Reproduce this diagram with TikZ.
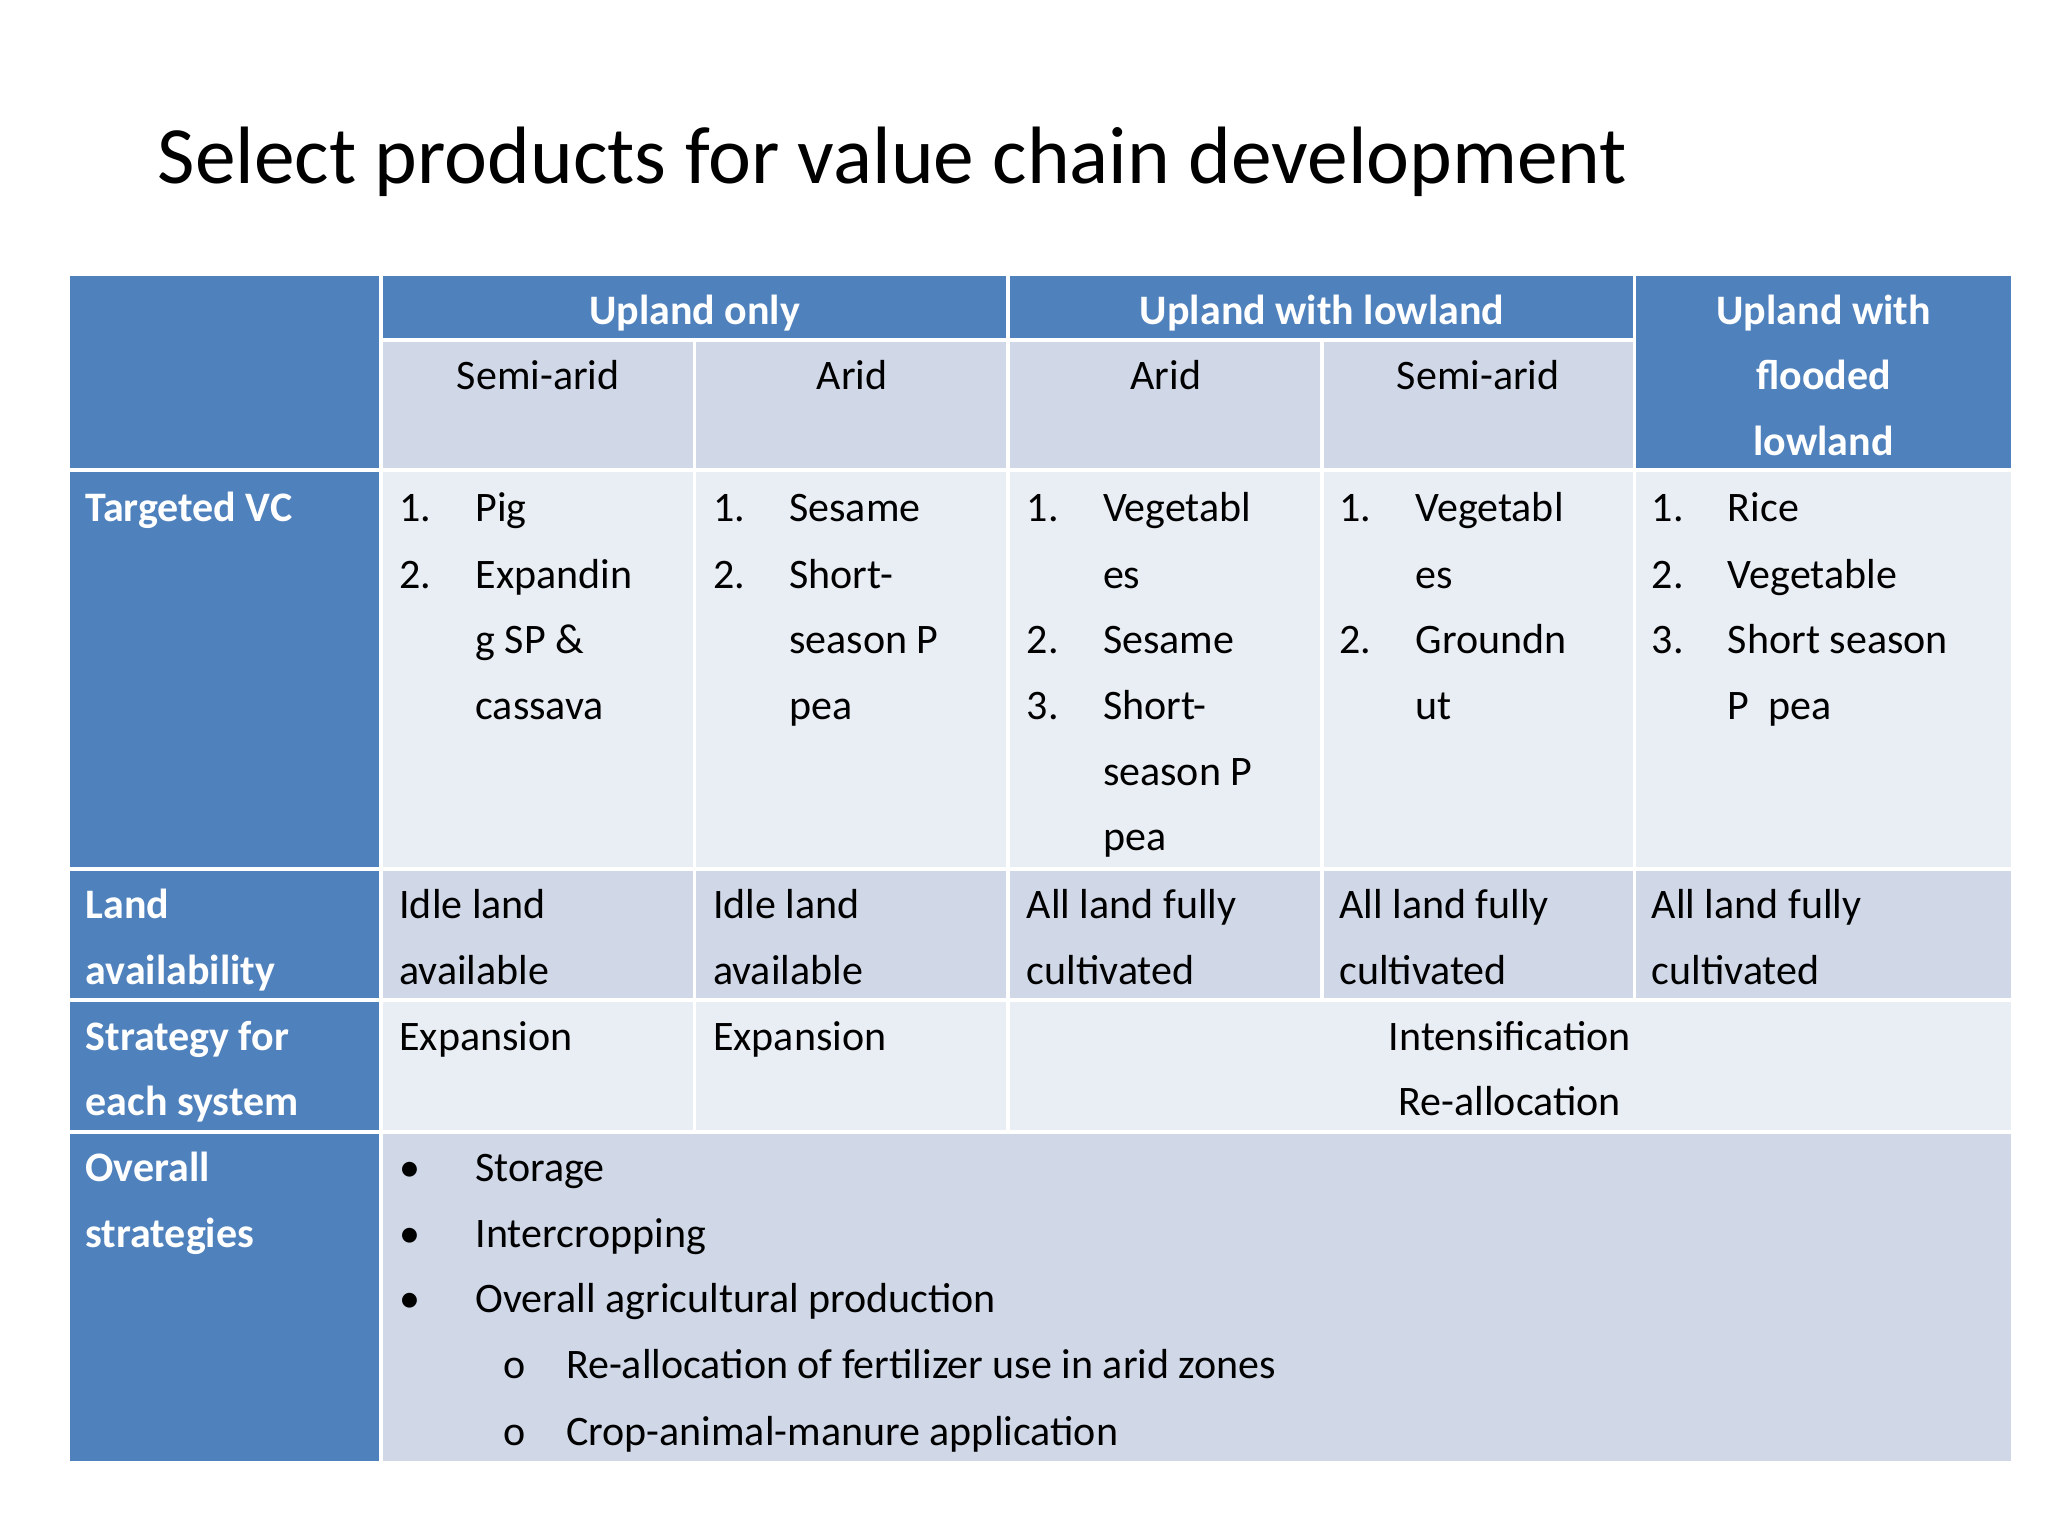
\documentclass[tikz,border=0pt]{standalone}
\usepackage{fontspec}
\setmainfont{Carlito}
\definecolor{hblue}{HTML}{4F81BD}
\definecolor{cdark}{HTML}{D0D8E8}
\definecolor{clight}{HTML}{E9EDF4}
\begin{document}
\begin{tikzpicture}[x=1pt,y=-1pt,
  t/.style={anchor=base west,inner sep=0pt,font=\fontsize{32}{38}\selectfont},
  tc/.style={anchor=base,inner sep=0pt,font=\fontsize{32}{38}\selectfont},
  hb/.style={anchor=base,inner sep=0pt,font=\fontsize{32}{38}\selectfont\bfseries,text=white},
  lb/.style={anchor=base west,inner sep=0pt,font=\fontsize{32}{38}\selectfont\bfseries,text=white},
  grid/.style={white,line width=3pt}]
\useasboundingbox (0,0) rectangle (1560,1170);
\fill[white] (0,0) rectangle (1560,1170);
\node[anchor=base west,inner sep=0pt,font=\fontsize{62}{70}\selectfont] (title) at (120,140) {Select products for value chain development};
% fills
\fill[hblue] (53,210) rectangle (290,1113);
\fill[hblue] (290,210) rectangle (1532,259);
\fill[hblue] (1245,210) rectangle (1532,358);
\fill[cdark] (290,259) rectangle (1245,358);
\fill[clight] (290,358) rectangle (1532,662);
\fill[cdark] (290,662) rectangle (1532,762);
\fill[clight] (290,762) rectangle (1532,862);
\fill[cdark] (290,862) rectangle (1532,1113);
% grid
\draw[grid] (53,358) -- (1532,358);
\draw[grid] (53,662) -- (1532,662);
\draw[grid] (53,762) -- (1532,762);
\draw[grid] (53,862) -- (1532,862);
\draw[grid] (290,259) -- (1245,259);
\draw[grid] (290,210) -- (290,1113);
\draw[grid] (768,210) -- (768,862);
\draw[grid] (1245,210) -- (1245,762);
\draw[grid] (529,259) -- (529,862);
\draw[grid] (1007,259) -- (1007,762);
% headers
\node[hb] (h1) at (529,247) {Upland only};
\node[hb] (h2) at (1007,247) {Upland with lowland};
\node[hb] (h3a) at (1389,247) {Upland with};
\node[hb] (h3b) at (1389,297) {flooded};
\node[hb] (h3c) at (1389,347) {lowland};
\node[tc] (s1) at (410,297) {Semi-arid};
\node[tc] (s2) at (649,297) {Arid};
\node[tc] (s3) at (888,297) {Arid};
\node[tc] (s4) at (1126,297) {Semi-arid};
% left labels
\node[lb] (l1) at (65,397) {Targeted VC};
\node[lb] (l2a) at (65,700) {Land};
\node[lb] (l2b) at (65,750) {availability};
\node[lb] (l3a) at (65,800) {Strategy for};
\node[lb] (l3b) at (65,850) {each system};
\node[lb] (l4a) at (65,900) {Overall};
\node[lb] (l4b) at (65,950) {strategies};
% targeted VC col1
\node[t] (a1) at (304,397) {1.}; \node[t] (a1t) at (362,397) {Pig};
\node[t] (a2) at (304,448) {2.}; \node[t] (a2t) at (362,448) {Expandin};
\node[t] (a3t) at (362,498) {g SP \&};
\node[t] (a4t) at (362,548) {cassava};
% col2
\node[t] (b1) at (543,397) {1.}; \node[t] (b1t) at (601,397) {Sesame};
\node[t] (b2) at (543,448) {2.}; \node[t] (b2t) at (601,448) {Short-};
\node[t] (b3t) at (601,498) {season P};
\node[t] (b4t) at (601,548) {pea};
% col3
\node[t] (c1) at (782,397) {1.}; \node[t] (c1t) at (840,397) {Vegetabl};
\node[t] (c2t) at (840,448) {es};
\node[t] (c3) at (782,498) {2.}; \node[t] (c3t) at (840,498) {Sesame};
\node[t] (c4) at (782,548) {3.}; \node[t] (c4t) at (840,548) {Short-};
\node[t] (c5t) at (840,598) {season P};
\node[t] (c6t) at (840,648) {pea};
% col4
\node[t] (d1) at (1020,397) {1.}; \node[t] (d1t) at (1078,397) {Vegetabl};
\node[t] (d2t) at (1078,448) {es};
\node[t] (d3) at (1020,498) {2.}; \node[t] (d3t) at (1078,498) {Groundn};
\node[t] (d4t) at (1078,548) {ut};
% col5
\node[t] (e1) at (1258,397) {1.}; \node[t] (e1t) at (1316,397) {Rice};
\node[t] (e2) at (1258,448) {2.}; \node[t] (e2t) at (1316,448) {Vegetable};
\node[t] (e3) at (1258,498) {3.}; \node[t] (e3t) at (1316,498) {Short season};
\node[t] (e4t) at (1316,548) {P\ \ pea};
% land
\node[t] (la1) at (304,700) {Idle land}; \node[t] (la2) at (304,750) {available};
\node[t] (lb1) at (543,700) {Idle land}; \node[t] (lb2) at (543,750) {available};
\node[t] (lc1) at (782,700) {All land fully}; \node[t] (lc2) at (782,750) {cultivated};
\node[t] (ld1) at (1020,700) {All land fully}; \node[t] (ld2) at (1020,750) {cultivated};
\node[t] (le1) at (1258,700) {All land fully}; \node[t] (le2) at (1258,750) {cultivated};
% strategy
\node[t] (sa) at (304,800) {Expansion};
\node[t] (sb) at (543,800) {Expansion};
\node[tc] (sc1) at (1150,800) {Intensification};
\node[tc] (sc2) at (1150,850) {Re-allocation};
% overall
\node[t] (o1b) at (304,900) {\textbullet}; \node[t] (o1) at (362,900) {Storage};
\node[t] (o2b) at (304,950) {\textbullet}; \node[t] (o2) at (362,950) {Intercropping};
\node[t] (o3b) at (304,1000) {\textbullet}; \node[t] (o3) at (362,1000) {Overall agricultural production};
\node[t] (o4b) at (383,1050) {o}; \node[t] (o4) at (431,1050) {Re-allocation of fertilizer use in arid zones};
\node[t] (o5b) at (383,1101) {o}; \node[t] (o5) at (431,1101) {Crop-animal-manure application};
\end{tikzpicture}
\end{document}
